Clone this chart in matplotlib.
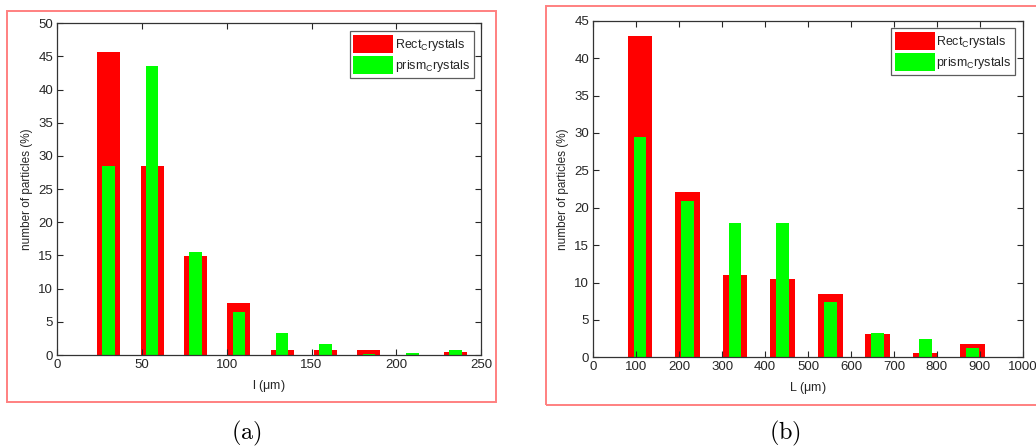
import matplotlib
matplotlib.use("Agg")
import matplotlib.pyplot as plt
from matplotlib.patches import Rectangle

plt.rcParams['font.family'] = ['Liberation Sans', 'DejaVu Sans']
plt.rcParams['mathtext.fontset'] = 'custom'
plt.rcParams['mathtext.rm'] = 'Liberation Sans'
plt.rcParams['mathtext.it'] = 'Liberation Sans'

# ---- data: panel (a) ----
a_centers = [30.3, 55.9, 81.5, 107.1, 132.7, 158.3, 183.9, 209.5, 235.1]
a_rect = [45.6, 28.5, 14.9, 7.9, 0.8, 0.8, 0.8, 0.0, 0.4]
a_prism = [28.5, 43.6, 15.5, 6.5, 3.3, 1.7, 0.1, 0.3, 0.8]
a_xticks = [0, 50, 100, 150, 200, 250]
a_yticks = [0, 5, 10, 15, 20, 25, 30, 35, 40, 45, 50]

# ---- data: panel (b) ----
b_centers = [108.7, 219.4, 330.1, 440.8, 551.5, 662.2, 772.9, 883.6]
b_rect = [43.0, 22.1, 11.0, 10.5, 8.4, 3.1, 0.6, 1.8]
b_prism = [29.4, 20.9, 18.0, 18.0, 7.4, 3.3, 2.5, 1.3]
b_xticks = [0, 100, 200, 300, 400, 500, 600, 700, 800, 900, 1000]
b_yticks = [0, 5, 10, 15, 20, 25, 30, 35, 40, 45]

labels = [r'Rect$_\mathrm{C}$rystals', r'prism$_\mathrm{C}$rystals']
RED = '#ff0000'
GREEN = '#00ff00'
TXT = '#262626'

W, H = 1036, 447
fig = plt.figure(figsize=(W / 100, H / 100), dpi=100)

def px_axes(l, t, r, b):
    return fig.add_axes([l / W, 1 - b / H, (r - l) / W, (b - t) / H])

def style(ax, xticks, yticks, xlab, xlim, ylim):
    ax.set_xlim(*xlim)
    ax.set_ylim(*ylim)
    ax.set_xticks(xticks)
    ax.set_yticks(yticks)
    ax.tick_params(direction='in', length=4, width=0.8, top=True, right=True,
                   labelsize=9.5, colors=TXT, pad=3)
    for s in ax.spines.values():
        s.set_color('#333333')
        s.set_linewidth(0.9)
    ax.set_xlabel(xlab, fontsize=9, color=TXT, labelpad=5)
    ax.set_ylabel('number of particles (%)', fontsize=8.5, color=TXT, labelpad=4)
    leg = ax.legend(loc='upper right', fontsize=9, frameon=True, fancybox=False,
                    edgecolor='#333333', handlelength=3.2, handleheight=1.9,
                    borderpad=0.3, labelspacing=0.2, handletextpad=0.1,
                    borderaxespad=0.6)
    leg.get_frame().set_linewidth(0.9)
    for t in leg.get_texts():
        t.set_color(TXT)

# panel (a)
ax1 = px_axes(57.3, 23.3, 481, 355)
ax1.bar(a_centers, a_rect, width=13.6, color=RED, linewidth=0, label=labels[0])
ax1.bar(a_centers, a_prism, width=7.4, color=GREEN, linewidth=0, label=labels[1])
style(ax1, a_xticks, a_yticks, r'l ($\mathrm{\mu}$m)', (0, 250), (0, 50))

# panel (b)
ax2 = px_axes(593.3, 20.7, 1022.7, 357.3)
ax2.bar(b_centers, b_rect, width=58, color=RED, linewidth=0, label=labels[0])
ax2.bar(b_centers, b_prism, width=30, color=GREEN, linewidth=0, label=labels[1])
style(ax2, b_xticks, b_yticks, r'L ($\mathrm{\mu}$m)', (0, 1000), (0, 45))

# red frames around panels
FR = '#ff8080'
fig.patches.append(Rectangle((7.3 / W, 1 - 401.7 / H), (496 - 7.3) / W, (401.7 - 10.7) / H,
                             transform=fig.transFigure, fill=False, edgecolor=FR, linewidth=1.4))
fig.patches.append(Rectangle((545.7 / W, 1 - 405 / H), (1040 - 545.7) / W, (405 - 5.7) / H,
                             transform=fig.transFigure, fill=False, edgecolor=FR, linewidth=1.4))

# captions
fig.text(246 / W, 1 - 433 / H, r'$\mathrm{(a)}$', fontsize=17.5,
         ha='center', va='center', math_fontfamily='cm')
fig.text(785 / W, 1 - 433 / H, r'$\mathrm{(b)}$', fontsize=17.5,
         ha='center', va='center', math_fontfamily='cm')

fig.savefig('out.png', dpi=100)
